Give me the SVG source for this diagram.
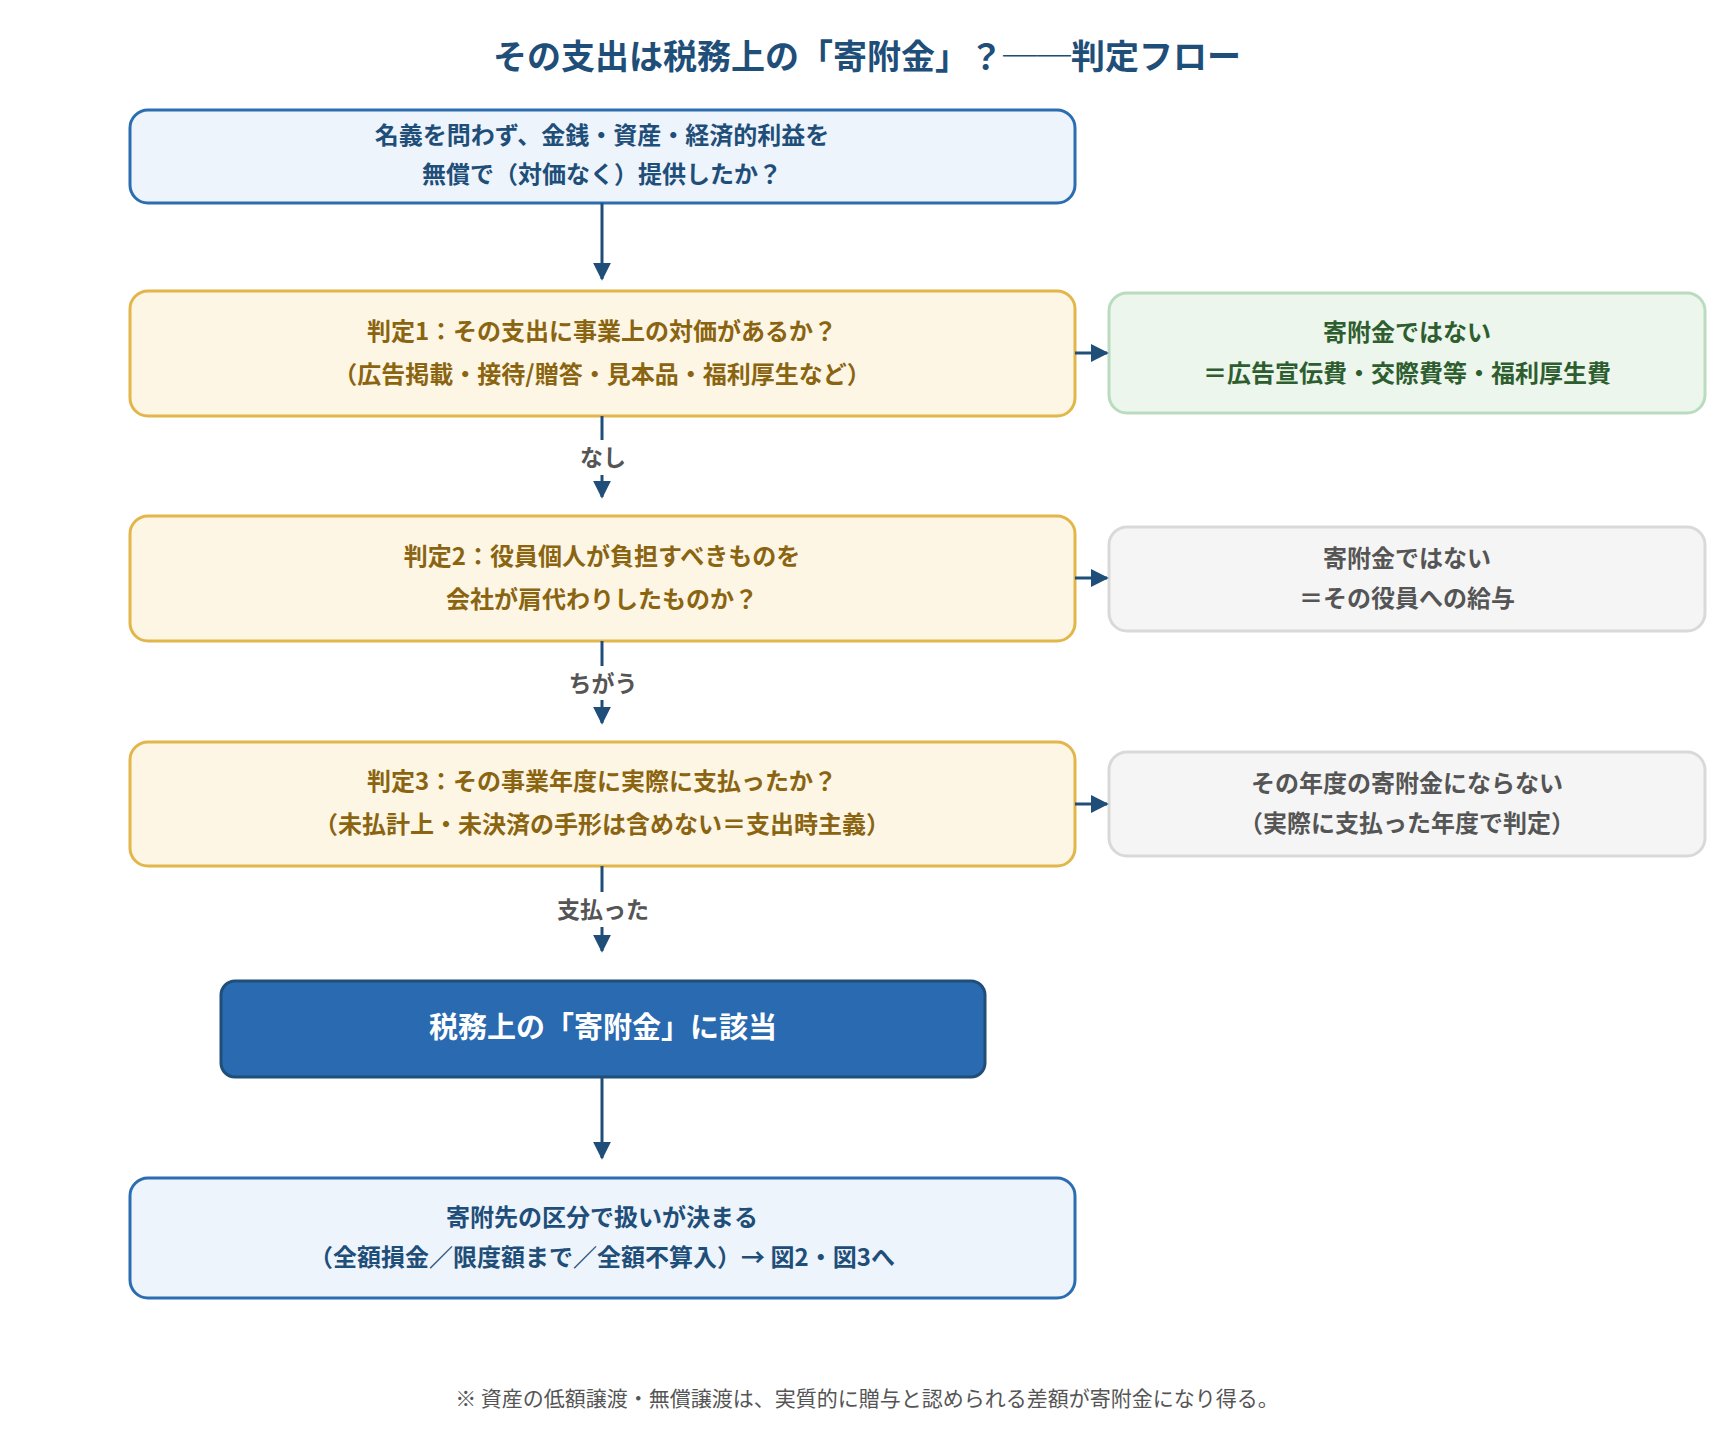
<svg xmlns="http://www.w3.org/2000/svg" width="1720" height="1440" viewBox="0 0 1720 1440">
<style>
text{font-family:"Noto Sans CJK JP","Noto Sans",sans-serif;font-weight:700;text-anchor:middle}
.t{font-size:24px}
.blue rect{fill:#edf4fc;stroke:#2c6cb0;stroke-width:3}
.blue text{fill:#1f4e79}
.yel rect{fill:#fdf6e4;stroke:#e2b64a;stroke-width:3}
.yel text{fill:#8a6410}
.grn rect{fill:#edf6ec;stroke:#b9dcbf;stroke-width:3}
.grn text{fill:#2e5e30}
.gry rect{fill:#f5f5f5;stroke:#d9d9d9;stroke-width:3}
.gry text{fill:#555}
.c line{stroke:#1f4e79;stroke-width:3}
.lbl{font-size:23px;fill:#555}
</style>
<defs><marker id="a" viewBox="0 0 10 10" refX="9" refY="5" markerWidth="6" markerHeight="6" orient="auto"><path d="M0,0L10,5L0,10z" fill="#1f4e79"/></marker></defs>
<rect width="1720" height="1440" fill="#fff"/>
<text x="867" y="69" style="font-size:34px;fill:#1f4e79">その支出は税務上の「寄附金」？──判定フロー</text>
<g id="n1" class="blue"><rect x="130" y="110" width="945" height="93" rx="18"/><text class="t" x="602" y="144">名義を問わず、金銭・資産・経済的利益を</text><text class="t" x="602" y="183">無償で（対価なく）提供したか？</text></g>
<g id="n2" class="yel"><rect x="130" y="291" width="945" height="125" rx="18"/><text class="t" x="602" y="340">判定1：その支出に事業上の対価があるか？</text><text class="t" x="602" y="383">（広告掲載・接待/贈答・見本品・福利厚生など）</text></g>
<g id="n2r" class="grn"><rect x="1109" y="293" width="596" height="120" rx="18"/><text class="t" x="1407" y="341">寄附金ではない</text><text class="t" x="1407" y="382">＝広告宣伝費・交際費等・福利厚生費</text></g>
<g id="n3" class="yel"><rect x="130" y="516" width="945" height="125" rx="18"/><text class="t" x="602" y="565">判定2：役員個人が負担すべきものを</text><text class="t" x="602" y="608">会社が肩代わりしたものか？</text></g>
<g id="n3r" class="gry"><rect x="1109" y="527" width="596" height="104" rx="18"/><text class="t" x="1407" y="567">寄附金ではない</text><text class="t" x="1407" y="607">＝その役員への給与</text></g>
<g id="n4" class="yel"><rect x="130" y="742" width="945" height="124" rx="18"/><text class="t" x="602" y="790">判定3：その事業年度に実際に支払ったか？</text><text class="t" x="602" y="833">（未払計上・未決済の手形は含めない＝支出時主義）</text></g>
<g id="n4r" class="gry"><rect x="1109" y="752" width="596" height="104" rx="18"/><text class="t" x="1407" y="792">その年度の寄附金にならない</text><text class="t" x="1407" y="832">（実際に支払った年度で判定）</text></g>
<g id="n5"><rect x="221" y="981" width="764" height="96" rx="14" fill="#2a6ab0" stroke="#1f4e79" stroke-width="3"/><text x="603" y="1038" style="font-size:29px;fill:#fff">税務上の「寄附金」に該当</text></g>
<g id="n6" class="blue"><rect x="130" y="1178" width="945" height="120" rx="18"/><text class="t" x="602" y="1226">寄附先の区分で扱いが決まる</text><text class="t" x="602" y="1266">（全額損金／限度額まで／全額不算入）→ 図2・図3へ</text></g>
<g id="conn" class="c">
<line x1="602" y1="203" x2="602" y2="279" marker-end="url(#a)"/>
<line x1="602" y1="416" x2="602" y2="440"/><line x1="602" y1="475" x2="602" y2="497" marker-end="url(#a)"/>
<line x1="602" y1="641" x2="602" y2="666"/><line x1="602" y1="700" x2="602" y2="723" marker-end="url(#a)"/>
<line x1="602" y1="866" x2="602" y2="892"/><line x1="602" y1="927" x2="602" y2="951" marker-end="url(#a)"/>
<line x1="602" y1="1077" x2="602" y2="1158" marker-end="url(#a)"/>
<line x1="1075" y1="353" x2="1107" y2="353" marker-end="url(#a)"/>
<line x1="1075" y1="578" x2="1107" y2="578" marker-end="url(#a)"/>
<line x1="1075" y1="804" x2="1107" y2="804" marker-end="url(#a)"/>
<text class="lbl" x="603" y="466">なし</text>
<text class="lbl" x="603" y="692">ちがう</text>
<text class="lbl" x="603" y="918">支払った</text>
</g>
<text x="867" y="1406" style="font-size:21px;font-weight:400;fill:#555">※ 資産の低額譲渡・無償譲渡は、実質的に贈与と認められる差額が寄附金になり得る。</text>
</svg>
